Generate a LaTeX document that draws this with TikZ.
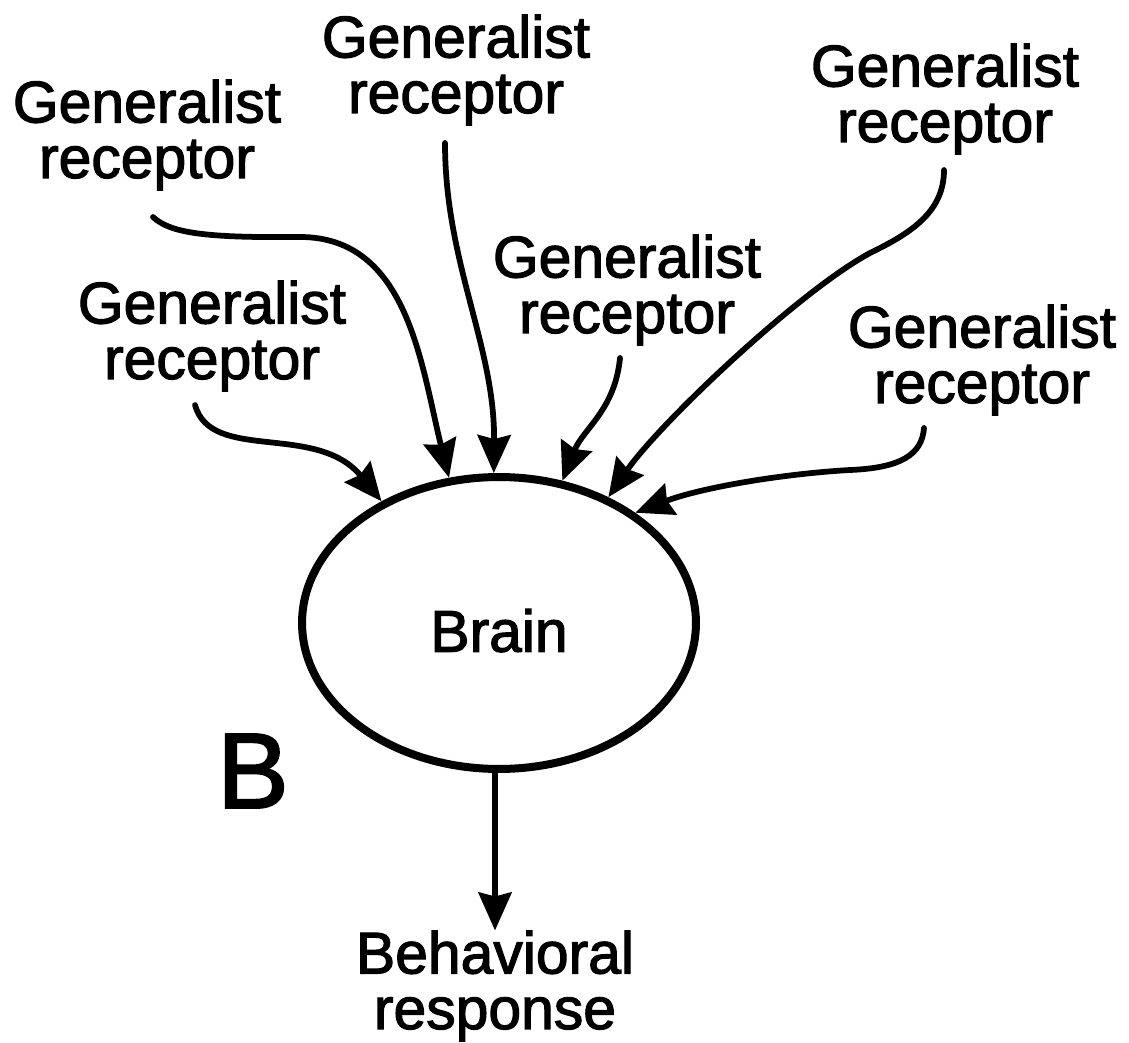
\documentclass[tikz,border=0pt]{standalone}
\usepackage{fontspec}
\setmainfont{Liberation Sans}
\newfontfamily\heavysans[FakeBold=2]{Liberation Sans}
\usetikzlibrary{arrows.meta,shapes.geometric}
\begin{document}
\begin{tikzpicture}[x=0.02cm,y=-0.02cm,
  lbl/.style={align=center,inner sep=0pt,font=\heavysans\fontsize{33.5}{31.6}\selectfont},
  brainshape/.style={ellipse,draw,line width=0.16cm,minimum width=7.88cm,
    minimum height=5.84cm,inner sep=0pt,font=\heavysans\fontsize{33.5}{31.6}\selectfont,
    text height=1.16cm},
  tagfont/.style={inner sep=0pt,font=\heavysans\fontsize{61}{61}\selectfont},
  feed/.style={line width=0.115cm,line cap=round,
    -{Stealth[length=0.76cm,width=0.66cm,inset=0.08cm]}},
]
\useasboundingbox (0,0) rectangle (1129,1043);

% receptor labels
\node[lbl] (g1) at (147,135) {Generalist\\receptor};
\node[lbl] (g2) at (212,336) {Generalist\\receptor};
\node[lbl] (g3) at (456,70)  {Generalist\\receptor};
\node[lbl] (g4) at (627,290) {Generalist\\receptor};
\node[lbl] (g5) at (945,99)  {Generalist\\receptor};
\node[lbl] (g6) at (982,360) {Generalist\\receptor};

% brain, panel tag and output
\node[brainshape] (brain) at (499,623) {Brain};
\node[tagfont] (tag) at (253,771) {B};
\node[lbl] (resp) at (495,986) {Behavioral\\response};

% starting points of the input fibres, just below each label
\coordinate (s1) at (153,217);
\coordinate (s2) at (195,405);
\coordinate (s3) at (445,143);
\coordinate (s4) at (620,358);
\coordinate (s5) at (944,170);
\coordinate (s6) at (924,428);

% input fibres converging on the brain
\draw[feed] (s1) .. controls (170,233) and (205,238) .. (300,237)
  .. controls (408,237) and (421,365) .. (brain.109);
\draw[feed] (s2) .. controls (211,463) and (317,422) .. (brain.134);
\draw[feed] (s3) .. controls (445,263) and (495,346) .. (brain.92.2);
\draw[feed] (s4) .. controls (615,410) and (583,429) .. (brain.66.2);
\draw[feed] (s5) .. controls (944,213) and (909,234) .. (870,253)
  .. controls (798,292) and (659,424) .. (brain.49.8);
\draw[feed] (s6) .. controls (922,455) and (900,468) .. (850,470)
  .. controls (780,474) and (700,488) .. (brain.39.8);

% output
\draw[feed] (resp.north |- brain.south) -- (resp.north);
\end{tikzpicture}
\end{document}
